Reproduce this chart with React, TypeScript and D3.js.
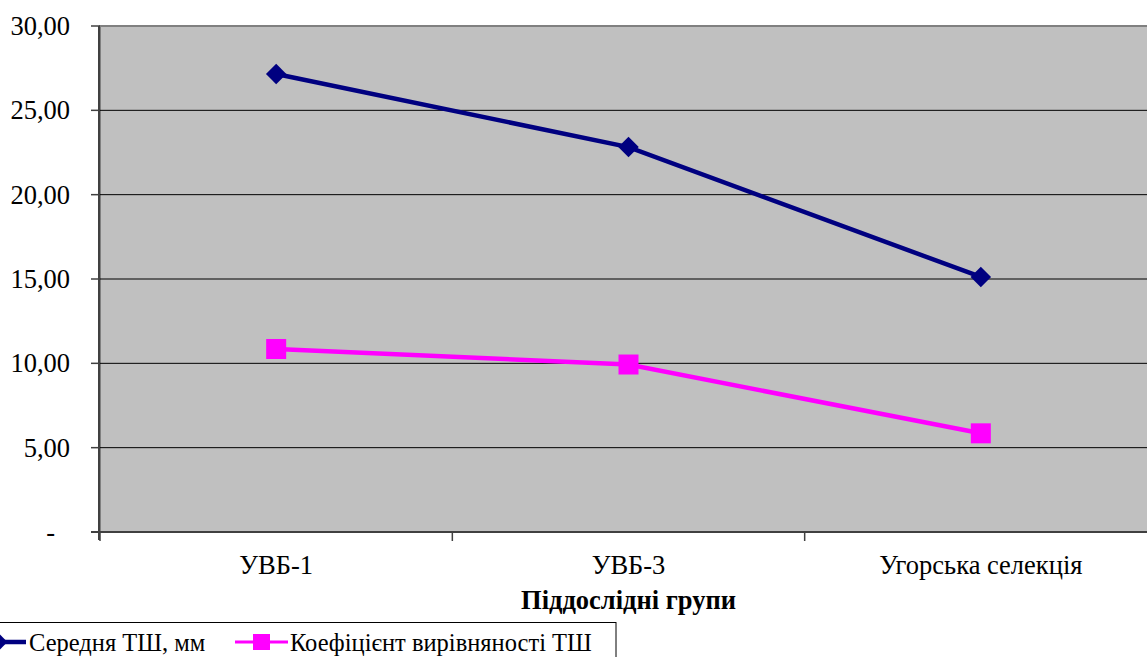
import React from "react";
import * as d3 from "d3";

const categories = ["УВБ-1", "УВБ-3", "Угорська селекція"];
const seriesNames = ["Середня ТШ, мм", "Коефіцієнт вирівняності ТШ"];
const meanValues = [27.15, 22.82, 15.12];
const uniformityValues = [10.85, 9.93, 5.85];
const yTicks = [0, 5, 10, 15, 20, 25, 30];
const xTitle = "Піддослідні групи";

const W = 1147;
const H = 657;
const FONT = "Liberation Serif";
const FS = 26.5;

const left = 100;
const right = 1157;
const top = 26;
const bottom = 532;

const x = d3.scaleBand<string>().domain(categories).range([left, right]);
const y = d3.scaleLinear().domain([0, 30]).range([bottom, top]);
const cx = (c: string) => (x(c) as number) + x.bandwidth() / 2;

const line = d3
  .line<number>()
  .x((_, i) => cx(categories[i]))
  .y((d) => y(d));

const diamondPath = d3.symbol().type(d3.symbolSquare).size(210)() as string;
const legendDiamond = d3.symbol().type(d3.symbolSquare).size(110)() as string;
const fmt = (d: number) => (d === 0 ? "-" : d3.format(".2f")(d).replace(".", ","));

const T: React.FC<React.SVGProps<SVGTextElement>> = (props) => (
  <text fontFamily={FONT} fontSize={FS} {...props} />
);

const App: React.FC = () => (
  <svg width={W} height={H} style={{ position: "absolute", left: 0, top: 0 }}>
    {/* plot area */}
    <rect
      x={left}
      y={top}
      width={right - left}
      height={bottom - top}
      fill="#c0c0c0"
      stroke="#808080"
      strokeWidth={2}
    />
    {yTicks
      .filter((t) => t > 0 && t < 30)
      .map((t) => (
        <line key={t} x1={left} x2={right} y1={y(t)} y2={y(t)} stroke="#000" strokeWidth={1} />
      ))}

    {/* y axis */}
    <line x1={left - 1} x2={left - 1} y1={top} y2={bottom + 8} stroke="#404040" strokeWidth={2} />
    {yTicks.map((t) => (
      <g key={t}>
        <line x1={left - 9} x2={left} y1={y(t)} y2={y(t)} stroke="#404040" strokeWidth={1.5} />
        <T x={t === 0 ? 55 : 70} y={y(t) + 9} textAnchor="end">
          {fmt(t)}
        </T>
      </g>
    ))}

    {/* x axis */}
    <line x1={left - 9} x2={right} y1={bottom} y2={bottom} stroke="#404040" strokeWidth={2} />
    {categories.map((c) => (
      <g key={c}>
        <line
          x1={x(c) as number}
          x2={x(c) as number}
          y1={bottom}
          y2={bottom + 9}
          stroke="#404040"
          strokeWidth={1.5}
        />
        <T x={cx(c)} y={574} textAnchor="middle">
          {c}
        </T>
      </g>
    ))}
    <T x={cx(categories[1])} y={609} textAnchor="middle" fontWeight="bold">
      {xTitle}
    </T>

    {/* series */}
    <path d={line(meanValues) as string} fill="none" stroke="#000080" strokeWidth={4.5} />
    {meanValues.map((v, i) => (
      <path
        key={i}
        d={diamondPath}
        transform={`translate(${cx(categories[i])},${y(v)}) rotate(45)`}
        fill="#000080"
      />
    ))}
    <path d={line(uniformityValues) as string} fill="none" stroke="#ff00ff" strokeWidth={4.5} />
    {uniformityValues.map((v, i) => (
      <rect key={i} x={cx(categories[i]) - 10} y={y(v) - 10} width={20} height={20} fill="#ff00ff" />
    ))}

    {/* legend */}
    <rect x={-10} y={622.5} width={626} height={60} fill="#fff" stroke="#000" strokeWidth={1} />
    <line x1={-25} x2={26} y1={642} y2={642} stroke="#000080" strokeWidth={4.5} />
    <path d={legendDiamond} transform="translate(0,642) rotate(45)" fill="#000080" />
    <T x={29} y={651} fontSize={24.5}>
      {seriesNames[0]}
    </T>
    <line x1={235} x2={288} y1={642} y2={642} stroke="#ff00ff" strokeWidth={3} />
    <rect x={253} y={634} width={17} height={16} fill="#ff00ff" />
    <T x={290} y={651} fontSize={24.5}>
      {seriesNames[1]}
    </T>
  </svg>
);

export default App;
